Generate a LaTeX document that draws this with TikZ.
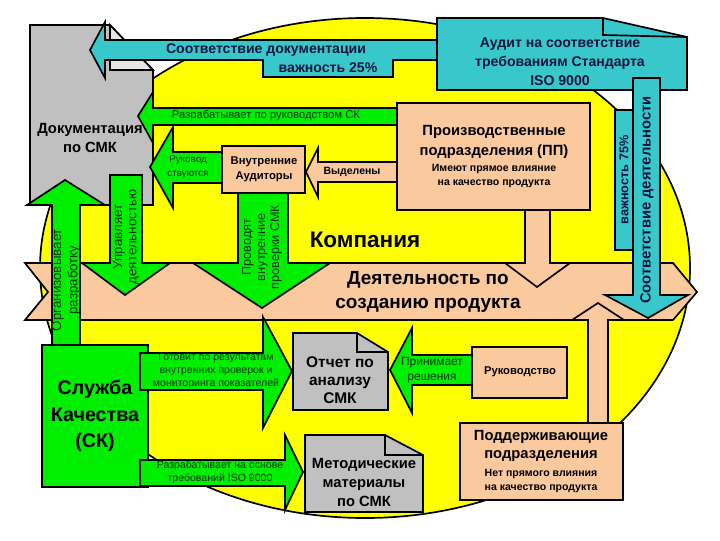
\documentclass[tikz,border=0pt]{standalone}
\usepackage{fontspec}
\setmainfont{Liberation Sans}
\usepackage{tikz}
\usetikzlibrary{positioning}

\definecolor{zheltyj}{RGB}{255,255,0}
\definecolor{zelenyj}{RGB}{0,238,0}
\definecolor{biryuza}{RGB}{56,200,204}
\definecolor{persik}{RGB}{250,202,158}
\definecolor{seryj}{RGB}{192,192,192}
\definecolor{tzel}{RGB}{0,55,0}
\definecolor{tsin}{RGB}{20,20,60}

\begin{document}
\begin{tikzpicture}[x=0.025cm, y=-0.025cm]
    \tikzstyle{kontur}=[draw=black, line width=1.2pt, line join=miter]
    \tikzstyle{zel-strelka}=[kontur, fill=zelenyj]
    \tikzstyle{bir-strelka}=[kontur, fill=biryuza]
    \tikzstyle{per-strelka}=[kontur, fill=persik]
    \tikzstyle{ser-list}=[kontur, fill=seryj]
    \tikzstyle{nadpis}=[align=center, inner sep=0pt, font=\bfseries]
    \tikzstyle{melkaya}=[align=center, inner sep=0pt, text=tzel]

    \useasboundingbox (0,0) rectangle (720,540);

    % kompaniya
    \draw[kontur, fill=zheltyj] (365,268) ellipse [x radius=325, y radius=250];

    % dokumentaciya
    \draw[ser-list] (30,25) -- (110,25) -- (153,70) -- (153,205) -- (30,205) -- cycle;
    \draw[kontur, fill=seryj!40] (110,25) -- (110,70) -- (153,70) -- cycle;
    \node[nadpis, font=\fontsize{10.5}{14}\selectfont\bfseries] (dokumentaciya) at (90,138) {Документация\\по СМК};
    \draw[bir-strelka] (90,50) -- (105,22) -- (105,40) -- (440,40) -- (440,60) -- (393,60) -- (393,77) -- (263,77) -- (263,60) -- (105,60) -- (105,78) -- cycle;
    \node[nadpis, text=tsin, font=\fontsize{10}{12}\selectfont\bfseries] (sootv-dok) at (266,50) {Соответствие документации};
    \node[nadpis, text=tsin, font=\fontsize{10}{12}\selectfont\bfseries] (vazhnost-25) at (328,68) {важность 25\%};

    % audit
    \draw[bir-strelka] (437,18) -- (603,18) -- (687,37) -- (687,90) -- (437,90) -- cycle;
    \draw[kontur] (603,18) -- (603,35) -- (687,37);
    \node[nadpis, text=tsin, font=\fontsize{10}{13.5}\selectfont\bfseries] (audit) at (560,62) {Аудит на соответствие\\требованиям Стандарта\\ISO 9000};

    % deyatelnost po sozdaniyu produkta
    \draw[per-strelka] (25,263) -- (673,263) -- (697,292) -- (673,320) -- (25,320) -- (48,292) -- cycle;

    % proizvodstvennye podrazdeleniya
    \draw[per-strelka] (397,103) rectangle (590,210);
    \draw[per-strelka] (525,210) -- (550,210) -- (550,263) -- (570,263) -- (537,287) -- (505,263) -- (525,263) -- cycle;
    \node[nadpis, font=\fontsize{10.5}{14}\selectfont\bfseries] (proizv) at (494,142) {Производственные\\подразделения (ПП)};
    \node[nadpis, font=\fontsize{7.5}{10.5}\selectfont\bfseries] (proizv-vliyanie) at (494,176) {Имеют прямое влияние\\на качество продукта};

    \node[nadpis, font=\fontsize{16}{18}\selectfont\bfseries] (kompaniya) at (365,240) {Компания};
    \node[nadpis, font=\fontsize{13.5}{16.5}\selectfont\bfseries] (deyatelnost) at (428,292) {Деятельность по\\созданию продукта};

    % vnutrennie auditory
    \draw[zel-strelka] (397,108) -- (153,108) -- (153,92) -- (138,116) -- (153,143) -- (153,125) -- (397,125) -- cycle;
    \node[melkaya, font=\fontsize{8}{8}\selectfont] (razrab-ruk) at (266,116) {Разрабатывает по руководством СК};
    \draw[zel-strelka] (222,152) -- (173,152) -- (173,127) -- (150,167) -- (173,208) -- (173,183) -- (222,183) -- cycle;
    \node[melkaya, font=\fontsize{7}{9.5}\selectfont] (rukovodstvuyutsya) at (188,167) {Руковод\\ствуются};
    \draw[per-strelka] (397,162) -- (318,162) -- (318,148) -- (306,172) -- (318,197) -- (318,182) -- (397,182) -- cycle;
    \node[nadpis, font=\fontsize{7.5}{9}\selectfont\bfseries] (vydeleny) at (352,172) {Выделены};
    \draw[zel-strelka] (238,193) -- (288,193) -- (288,263) -- (330,263) -- (262,308) -- (193,263) -- (238,263) -- cycle;
    \draw[per-strelka] (222,146) rectangle (305,193);
    \node[nadpis, font=\fontsize{8}{10.5}\selectfont\bfseries] (vn-auditory) at (264,169) {Внутренние\\Аудиторы};
    \node[melkaya, rotate=90, font=\fontsize{9}{10}\selectfont] (provodyat) at (262,247) {Проводят\\внутренние\\проверки СМК};

    % sluzhba kachestva
    \draw[zel-strelka] (110,175) -- (142,175) -- (142,263) -- (170,263) -- (125,295) -- (82,263) -- (110,263) -- cycle;
    \node[melkaya, rotate=90, font=\fontsize{9.5}{10}\selectfont] (upravlyaet) at (126,237) {Управляет\\деятельностью};
    \draw[zel-strelka] (52,345) -- (52,205) -- (27,205) -- (65,180) -- (105,205) -- (80,205) -- (80,345) -- cycle;
    \node[melkaya, rotate=90, font=\fontsize{9.5}{11.5}\selectfont] (organizuet) at (66,280) {Организовывает\\разработку};
    \draw[zel-strelka] (42,345) rectangle (148,487);
    \node[nadpis, font=\fontsize{14}{19}\selectfont\bfseries] (sluzhba) at (95,416) {Служба\\Качества\\(СК)};

    % otchet po analizu
    \draw[zel-strelka] (140,353) -- (263,353) -- (263,317) -- (292,371) -- (263,428) -- (263,390) -- (140,390) -- cycle;
    \node[melkaya, font=\fontsize{7.5}{9.2}\selectfont] (gotovit) at (216,371) {Готовит по результатам\\внутренних проверок и\\мониторинга показателей};
    \draw[ser-list] (293,333) -- (357,333) -- (388,352) -- (388,410) -- (293,410) -- cycle;
    \draw[kontur] (357,333) -- (357,352) -- (388,352);
    \node[nadpis, font=\fontsize{11}{13}\selectfont\bfseries] (otchet) at (340,380) {Отчет по\\анализу\\СМК};
    \draw[zel-strelka] (472,355) -- (412,355) -- (412,328) -- (390,370) -- (412,413) -- (412,385) -- (472,385) -- cycle;
    \node[melkaya, font=\fontsize{8.5}{10.5}\selectfont] (prinimaet) at (432,370) {Принимает\\решения};
    \draw[per-strelka] (472,347) rectangle (567,398);
    \node[nadpis, font=\fontsize{8}{10}\selectfont\bfseries] (rukovodstvo) at (520,372) {Руководство};

    % metodicheskie materialy
    \draw[zel-strelka] (140,460) -- (285,460) -- (285,435) -- (303,472) -- (285,510) -- (285,486) -- (140,486) -- cycle;
    \node[melkaya, font=\fontsize{7.5}{9}\selectfont] (razrab-iso) at (220,472) {Разрабатывает на основе\\требований ISO 9000};
    \draw[ser-list] (305,435) -- (385,435) -- (423,455) -- (423,512) -- (305,512) -- cycle;
    \draw[kontur] (385,435) -- (385,455) -- (423,455);
    \node[nadpis, font=\fontsize{10.5}{13.5}\selectfont\bfseries] (metodicheskie) at (364,482) {Методические\\материалы\\по СМК};

    % podderzhivayushchie podrazdeleniya
    \draw[per-strelka] (588,423) -- (588,320) -- (572,320) -- (598,303) -- (624,320) -- (608,320) -- (608,423) -- cycle;
    \draw[per-strelka] (460,423) rectangle (623,500);
    \node[nadpis, font=\fontsize{10.5}{13}\selectfont\bfseries] (podderzh) at (541,446) {Поддерживающие\\подразделения};
    \node[nadpis, font=\fontsize{7.5}{10.5}\selectfont\bfseries] (podderzh-vliyanie) at (541,481) {Нет прямого влияния\\на качество продукта};

    % sootvetstvie deyatelnosti
    \draw[bir-strelka] (633,78) -- (660,78) -- (660,295) -- (688,295) -- (648,318) -- (605,295) -- (633,295) -- cycle;
    \draw[bir-strelka] (615,110) rectangle (633,250);
    \node[nadpis, rotate=90, text=tsin, font=\fontsize{10.5}{12}\selectfont\bfseries] (sootv-deyat) at (647,200) {Соответствие деятельности};
    \node[nadpis, rotate=90, text=tsin, font=\fontsize{9}{11}\selectfont\bfseries] (vazhnost-75) at (624,180) {важность 75\%};
\end{tikzpicture}
\end{document}
